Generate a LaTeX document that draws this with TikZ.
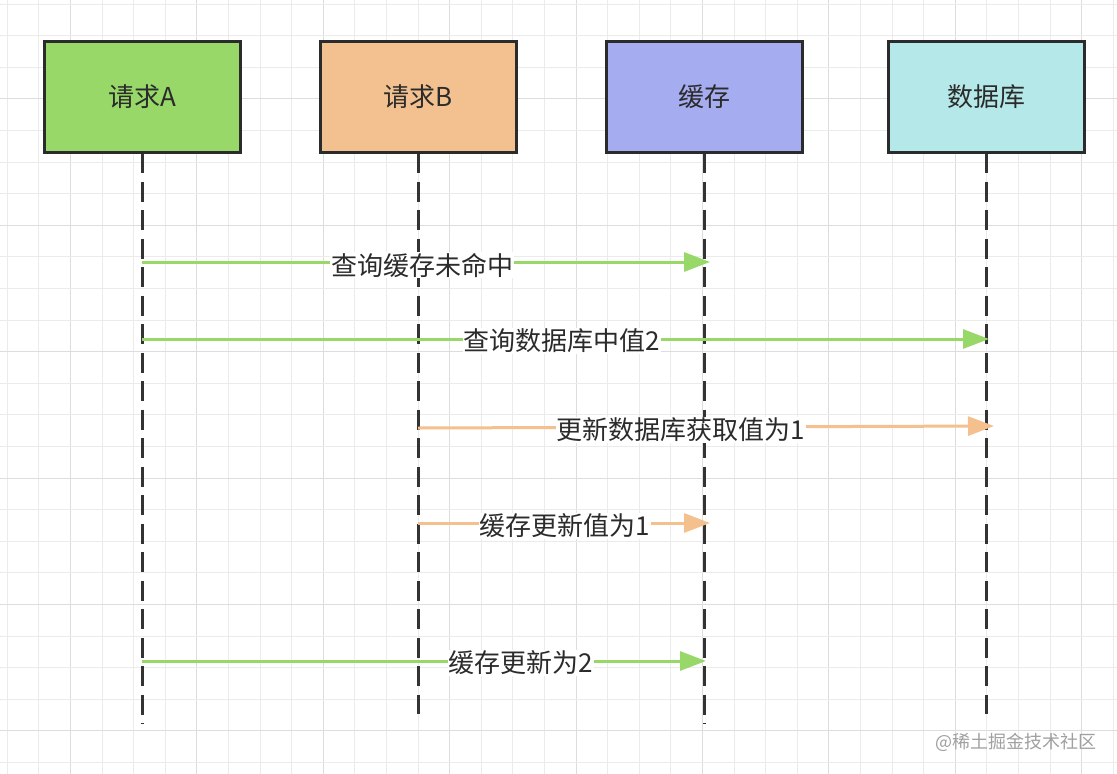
\documentclass[tikz,border=0pt]{standalone}
\usepackage{fontspec}
\setmainfont{Noto Sans CJK SC}
\usetikzlibrary{arrows.meta}
\definecolor{gridminor}{HTML}{EBEBEB}
\definecolor{gridmajor}{HTML}{DDDDDD}
\definecolor{edge}{HTML}{2B2B2B}
\definecolor{lifeln}{HTML}{333333}
\definecolor{fillA}{HTML}{97D869}
\definecolor{fillB}{HTML}{F3C18F}
\definecolor{fillC}{HTML}{A6ACF0}
\definecolor{fillD}{HTML}{B5E8E8}
\definecolor{greenln}{HTML}{97D869}
\definecolor{orangeln}{HTML}{F4C18E}
\definecolor{wmark}{HTML}{A0A0A0}
\tikzset{
  actor/.style={draw=edge, line width=3pt, minimum width=196pt, minimum height=111pt,
    inner sep=0pt, font=\fontsize{26}{30}\selectfont, text=edge},
  lifeline/.style={draw=lifeln, line width=3pt, dash pattern=on 20pt off 8.5pt},
  msg/.style={line width=3pt, -{Triangle[length=26pt, width=19pt]}},
  greenmsg/.style={msg, draw=greenln, fill=greenln},
  orangemsg/.style={msg, draw=orangeln, fill=orangeln},
  msglabel/.style={fill=white, inner sep=1pt, font=\fontsize{26}{30}\selectfont, text=edge}
}
\begin{document}
\begin{tikzpicture}[x=1pt, y=-1pt]
\useasboundingbox (0,0) rectangle (1117,774);
\fill[white] (0,0) rectangle (1117,774);
% grid
\foreach \k in {0,...,35} {
  \pgfmathsetmacro{\gx}{round(6.8+31.6*\k)+0.5}
  \pgfmathtruncatemacro{\m}{mod(\k,4)}
  \ifnum\m=2 \draw[gridmajor, line width=1.5pt] (\gx,0) -- (\gx,774);
  \else \draw[gridminor, line width=1.5pt] (\gx,0) -- (\gx,774); \fi
}
\foreach \k in {0,...,24} {
  \pgfmathsetmacro{\gy}{round(3.5+31.6*\k)+0.5}
  \pgfmathtruncatemacro{\m}{mod(\k,4)}
  \ifnum\m=3 \draw[gridmajor, line width=1.5pt] (0,\gy) -- (1117,\gy);
  \else \draw[gridminor, line width=1.5pt] (0,\gy) -- (1117,\gy); \fi
}
% lifeline ends
\coordinate (endA) at (142,724);
\coordinate (endB) at (418,714);
\coordinate (endC) at (704,724);
\coordinate (endD) at (986,714);
% lifelines
\draw[lifeline] (142,153) -- (endA);
\draw[lifeline] (418,153) -- (endB);
\draw[lifeline] (704,153) -- (endC);
\draw[lifeline] (986,153) -- (endD);
% actors
\node[actor, fill=fillA] (A) at (142,96.5) {请求A};
\node[actor, fill=fillB] (B) at (418,96.5) {请求B};
\node[actor, fill=fillC] (C) at (704.5,96.5) {缓存};
\node[actor, fill=fillD] (D) at (986.5,96.5) {数据库};
% message anchor points
\coordinate (a1) at (142,262);  \coordinate (c1) at (710,262);
\coordinate (a2) at (142,339);  \coordinate (d2) at (989,339);
\coordinate (b3) at (418,428);  \coordinate (d3) at (994,426);
\coordinate (b4) at (418,523);  \coordinate (c4) at (710,523);
\coordinate (a5) at (142,661);  \coordinate (c5) at (706,661);
% messages
\draw[greenmsg] (a1) -- (c1);
\node[msglabel] (l1) at (422,265) {查询缓存未命中};
\draw[greenmsg] (a2) -- (d2);
\node[msglabel] (l2) at (562,341) {查询数据库中值2};
\draw[orangemsg] (b3) -- (d3);
\node[msglabel] (l3) at (681,430) {更新数据库获取值为1};
\draw[orangemsg] (b4) -- (c4);
\node[msglabel] (l4) at (565,526) {缓存更新值为1};
\draw[greenmsg] (a5) -- (c5);
\node[msglabel] (l5) at (521,663) {缓存更新为2};
% watermark
\node[text=wmark, font=\fontsize{18}{21}\selectfont, anchor=center, inner sep=0pt] (wm) at (1016,742) {@稀土掘金技术社区};
\end{tikzpicture}
\end{document}
